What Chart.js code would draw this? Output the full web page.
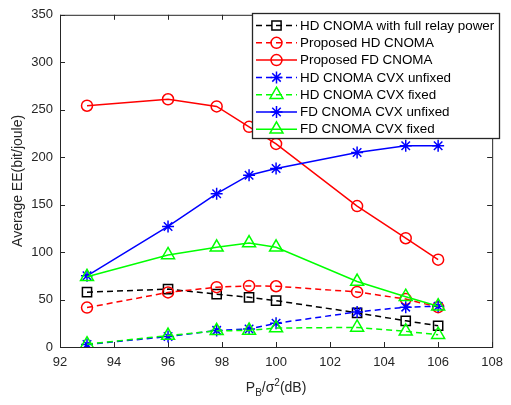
<!DOCTYPE html>
<html>
<head>
<meta charset="utf-8">
<script src="https://cdn.jsdelivr.net/npm/chart.js@4/dist/chart.umd.min.js"></script>
<style>
  body { margin: 0; background: #fff; }
  #wrap { width: 511px; height: 405px; }
</style>
</head>
<body>
<div id="wrap"><canvas id="eeChart" width="511" height="405"></canvas></div>
<script>
// x axis: P_B / sigma^2 (dB)
const xValues = [93, 96, 97.8, 99, 100, 103, 104.8, 106];
const xTicks = [92, 94, 96, 98, 100, 102, 104, 106, 108];
const yTicks = [0, 50, 100, 150, 200, 250, 300, 350];

// Average EE (bit/joule)
const hdFullRelay = [57.8, 61, 55.7, 52.3, 48.8, 36, 27.6, 22.4];
const proposedHd = [41.5, 57.5, 63, 64.4, 64, 58, 50.5, 42];
const proposedFd = [254.2, 261, 253.5, 232, 214, 148.5, 114.6, 92];
const hdCvxUnfixed = [2.6, 11, 17.5, 19, 25, 37, 42, 43];
const hdCvxFixed = [3, 12, 17, 17.5, 20, 20.6, 16.5, 13];
const fdCvxUnfixed = [75, 127, 161.5, 181, 188, 205, 212, 212];
const fdCvxFixed = [74, 97, 105, 109.5, 105, 69, 53, 43];

const seriesLabels = [
    'HD CNOMA with full relay power',
    'Proposed HD CNOMA',
    'Proposed FD CNOMA',
    'HD CNOMA CVX unfixed',
    'HD CNOMA CVX fixed',
    'FD CNOMA CVX unfixed',
    'FD CNOMA CVX fixed'
];

const BLACK = '#000000', RED = '#ff0000', BLUE = '#0000ff', GREEN = '#00ff00';
const DASH = [6, 4];

function series(i, values, color, style, dashed, radius) {
    return {
        label: seriesLabels[i],
        data: values.map((v, k) => ({ x: xValues[k], y: v })),
        borderColor: color,
        backgroundColor: 'rgba(0,0,0,0)',
        borderWidth: 1.5,
        borderDash: dashed ? DASH : [],
        pointStyle: style,
        pointRadius: radius,
        pointBorderColor: color,
        pointBackgroundColor: 'rgba(0,0,0,0)',
        pointBorderWidth: 1.5,
        order: 10 - i,
        tension: 0
    };
}

const datasets = [
    series(0, hdFullRelay, BLACK, 'rect', true, 6.5),
    series(1, proposedHd, RED, 'circle', true, 5.5),
    series(2, proposedFd, RED, 'circle', false, 5.5),
    series(3, hdCvxUnfixed, BLUE, 'star', true, 6),
    series(4, hdCvxFixed, GREEN, 'triangle', true, 7.5),
    series(5, fdCvxUnfixed, BLUE, 'star', false, 6),
    series(6, fdCvxFixed, GREEN, 'triangle', false, 7.5)
];

const AXIS = '#262626';
const FONT = '"Liberation Sans", Arial, Helvetica, sans-serif';

// axes box with inward ticks, like the original figure
const frame = {
    id: 'frame',
    beforeDatasetsDraw(chart) {
        const { ctx, chartArea: a, scales } = chart;
        ctx.save();
        ctx.strokeStyle = AXIS;
        ctx.lineWidth = 1;
        ctx.strokeRect(a.left + 0.5, a.top + 0.5, a.right - a.left, a.bottom - a.top);
        const len = 5;
        ctx.beginPath();
        xTicks.forEach(t => {
            const x = Math.round(scales.x.getPixelForValue(t)) + 0.5;
            ctx.moveTo(x, a.bottom); ctx.lineTo(x, a.bottom - len);
            ctx.moveTo(x, a.top); ctx.lineTo(x, a.top + len);
        });
        yTicks.forEach(t => {
            const y = Math.round(scales.y.getPixelForValue(t)) + 0.5;
            ctx.moveTo(a.left, y); ctx.lineTo(a.left + len, y);
            ctx.moveTo(a.right, y); ctx.lineTo(a.right - len, y);
        });
        ctx.stroke();

        // axis titles
        ctx.fillStyle = AXIS;
        ctx.textBaseline = 'alphabetic';
        // y title
        ctx.save();
        ctx.translate(22, (a.top + a.bottom) / 2);
        ctx.rotate(-Math.PI / 2);
        ctx.textAlign = 'center';
        ctx.font = '14px ' + FONT;
        ctx.fillText('Average EE(bit/joule)', 0, 0);
        ctx.restore();

        // x title with sub/superscripts
        const parts = [
            { t: 'P', size: 14, dy: 0 },
            { t: 'B', size: 10, dy: 4 },
            { t: '/σ', size: 14, dy: 0 },
            { t: '2', size: 10, dy: -6 },
            { t: '(dB)', size: 14, dy: 0 }
        ];
        let total = 0;
        parts.forEach(p => { ctx.font = p.size + 'px ' + FONT; p.w = ctx.measureText(p.t).width; total += p.w; });
        let x = (a.left + a.right) / 2 - total / 2;
        const base = 392;
        ctx.textAlign = 'left';
        parts.forEach(p => {
            ctx.font = p.size + 'px ' + FONT;
            ctx.fillText(p.t, x, base + p.dy);
            x += p.w;
        });
        ctx.restore();
    }
};

// MATLAB-style legend box in the upper right
const legendBox = {
    id: 'legendBox',
    afterDatasetsDraw(chart) {
        const { ctx } = chart;
        const left = 252, top = 13, right = 499, bottom = 138;
        ctx.save();
        ctx.fillStyle = '#ffffff';
        ctx.fillRect(left, top, right - left, bottom - top);
        ctx.strokeStyle = '#262626';
        ctx.lineWidth = 1.3;
        ctx.strokeRect(left + 0.5, top + 0.5, right - left, bottom - top);
        chart.data.datasets.forEach((ds, i) => {
            const y = 25.5 + i * 17.3;
            ctx.save();
            ctx.strokeStyle = ds.borderColor;
            ctx.fillStyle = 'rgba(0,0,0,0)';
            ctx.lineWidth = ds.borderWidth;
            ctx.setLineDash(ds.borderDash);
            ctx.beginPath();
            ctx.moveTo(256, y);
            ctx.lineTo(297, y);
            ctx.stroke();
            ctx.setLineDash([]);
            Chart.helpers.drawPoint(ctx, {
                pointStyle: ds.pointStyle,
                radius: ds.pointRadius,
                borderWidth: ds.pointBorderWidth,
                rotation: 0
            }, 276.5, y);
            ctx.restore();
            ctx.fillStyle = '#000000';
            ctx.font = '13.4px ' + FONT;
            ctx.textBaseline = 'middle';
            ctx.textAlign = 'left';
            ctx.fillText(ds.label, 300, y + 0.5);
        });
        ctx.restore();
    }
};

new Chart(document.getElementById('eeChart'), {
    type: 'line',
    data: { datasets },
    options: {
        responsive: false,
        animation: false,
        layout: { padding: { left: 0, right: 12, top: 14, bottom: 0 } },
        plugins: { legend: { display: false }, tooltip: { enabled: false }, title: { display: false } },
        scales: {
            x: {
                type: 'linear',
                min: 92, max: 108,
                afterBuildTicks: s => { s.ticks = xTicks.map(v => ({ value: v })); },
                afterFit: s => { s.height = 58; },
                grid: { display: false, drawTicks: false, tickLength: 0 },
                border: { display: false },
                ticks: { color: AXIS, font: { size: 13, family: FONT }, padding: 8, maxRotation: 0 }
            },
            y: {
                type: 'linear',
                min: 0, max: 350,
                afterBuildTicks: s => { s.ticks = yTicks.map(v => ({ value: v })); },
                afterFit: s => { s.width = 60; },
                grid: { display: false, drawTicks: false, tickLength: 0 },
                border: { display: false },
                ticks: { color: AXIS, font: { size: 13, family: FONT }, padding: 7 }
            }
        }
    },
    plugins: [frame, legendBox]
});
</script>
</body>
</html>
